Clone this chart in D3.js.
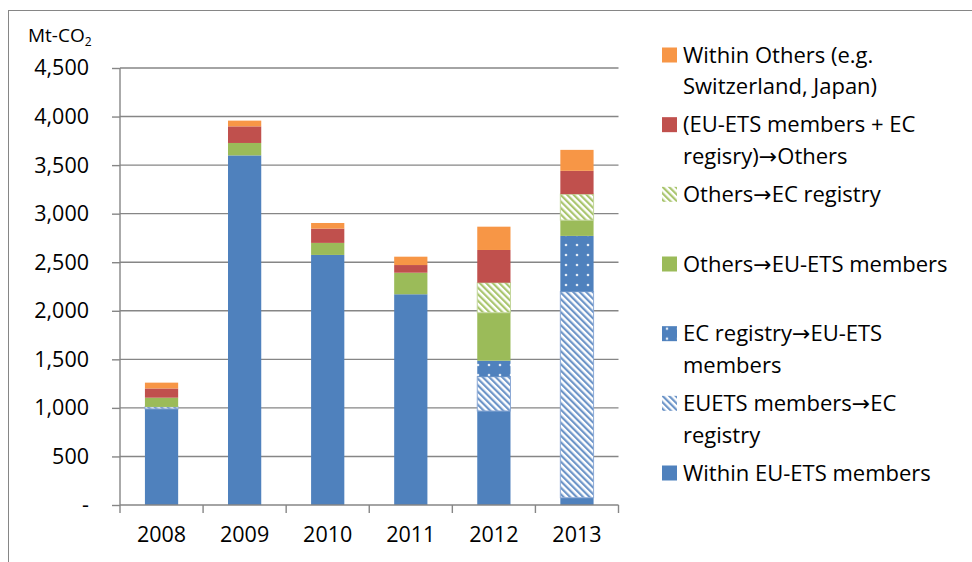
<!DOCTYPE html>
<html>
<head>
<meta charset="utf-8">
<script src="https://cdn.jsdelivr.net/npm/d3@7/dist/d3.min.js"></script>
<style>
    body { margin: 0; background: #fff; }
    text { font-family: "Open Sans", "Noto Sans", sans-serif; fill: #000; }
    .arrow { font-family: "DejaVu Sans", sans-serif; }
</style>
</head>
<body>
<div id="chart"></div>
<script>
// Data (Mt-CO2), series listed bottom to top of the stack
var years              =   [ '2008', '2009', '2010', '2011', '2012', '2013' ];
var within_eu          =   [ 990, 3600, 2575, 2170, 968, 75 ];
var euets_to_ec        =   [ 20, 0, 0, 0, 353, 2122 ];
var ec_to_eu           =   [ 0, 0, 0, 0, 165, 574 ];
var others_to_eu       =   [ 95, 128, 124, 222, 494, 162 ];
var others_to_ec       =   [ 0, 0, 0, 0, 309, 268 ];
var euec_to_others     =   [ 95, 171, 147, 79, 337, 240 ];
var within_others      =   [ 60, 59, 58, 86, 240, 216 ];
var y_ticks            =   [ 0, 500, 1000, 1500, 2000, 2500, 3000, 3500, 4000, 4500 ];

var series = [
    { key: 'within_eu',      values: within_eu,      fill: '#4F81BD',           label: [ 'Within EU-ETS members' ] },
    { key: 'euets_to_ec',    values: euets_to_ec,    fill: 'url(#hatch-blue)',  stroke: '#8DAAD6', label: [ 'EUETS members\u2192EC', 'registry' ] },
    { key: 'ec_to_eu',       values: ec_to_eu,       fill: 'url(#dots-blue)',   label: [ 'EC registry\u2192EU-ETS', 'members' ] },
    { key: 'others_to_eu',   values: others_to_eu,   fill: '#9BBB59',           label: [ 'Others\u2192EU-ETS members' ] },
    { key: 'others_to_ec',   values: others_to_ec,   fill: 'url(#hatch-green)', stroke: '#C3D69B', label: [ 'Others\u2192EC registry' ] },
    { key: 'euec_to_others', values: euec_to_others, fill: '#C0504D',           label: [ '(EU-ETS members + EC', 'regisry)\u2192Others' ] },
    { key: 'within_others',  values: within_others,  fill: '#F79646',           label: [ 'Within Others (e.g.', 'Switzerland, Japan)' ] }
];

var chart_width     =   972;
var chart_height    =   562;
var plot_left       =   120;
var plot_right      =   618.5;
var plot_top        =   68;
var plot_bottom     =   505;
var grid_color      =   '#868686';
var font_size       =   '21.5px';

var svg             =   d3.select( '#chart' )
    .append( 'svg' )
    .attr( 'width', chart_width )
    .attr( 'height', chart_height );

// Patterns
var defs = svg.append( 'defs' );

function hatch( id, color ) {
    var p = defs.append( 'pattern' )
        .attr( 'id', id )
        .attr( 'patternUnits', 'userSpaceOnUse' )
        .attr( 'width', 4.6 )
        .attr( 'height', 4.6 )
        .attr( 'patternTransform', 'rotate(-45)' );
    p.append( 'rect' ).attr( 'width', 4.6 ).attr( 'height', 4.6 ).attr( 'fill', '#fff' );
    p.append( 'rect' ).attr( 'width', 2.2 ).attr( 'height', 4.6 ).attr( 'fill', color );
}
hatch( 'hatch-blue', '#6D95C8' );
hatch( 'hatch-green', '#A9C56E' );

var dots = defs.append( 'pattern' )
    .attr( 'id', 'dots-blue' )
    .attr( 'patternUnits', 'userSpaceOnUse' )
    .attr( 'width', 11 )
    .attr( 'height', 10 );
dots.append( 'rect' ).attr( 'width', 11 ).attr( 'height', 10 ).attr( 'fill', '#4F81BD' );
dots.append( 'circle' ).attr( 'cx', 5 ).attr( 'cy', 5 ).attr( 'r', 1.3 ).attr( 'fill', '#E4ECF6' );

// Outer frame
svg.append( 'rect' )
    .attr( 'x', 8.5 )
    .attr( 'y', 10.5 )
    .attr( 'width', 1000 )
    .attr( 'height', 1000 )
    .attr( 'fill', 'none' )
    .attr( 'stroke', '#868686' )
    .attr( 'stroke-width', 1 );

// Scales
var x_scale         =   d3.scaleBand()
    .domain( years )
    .range([ plot_left, plot_right ])
    .paddingInner( 0.6 )
    .paddingOuter( 0.3 );

var y_scale         =   d3.scaleLinear()
    .domain([ 0, 4500 ])
    .range([ plot_bottom, plot_top ]);

// Gridlines
svg.append( 'g' )
    .selectAll( 'line' )
    .data( y_ticks.slice( 1 ) )
    .enter()
    .append( 'line' )
    .attr( 'x1', plot_left )
    .attr( 'x2', plot_right )
    .attr( 'y1', function(d){ return y_scale(d); } )
    .attr( 'y2', function(d){ return y_scale(d); } )
    .attr( 'stroke', grid_color )
    .attr( 'stroke-width', 1.4 );

// Stack
var table = years.map(function(yr, i){
    var row = { year: yr };
    series.forEach(function(s){ row[s.key] = s.values[i]; });
    return row;
});
var stacked = d3.stack().keys( series.map(function(s){ return s.key; }) )( table );

svg.append( 'g' )
    .selectAll( 'g' )
    .data( stacked )
    .enter()
    .append( 'g' )
    .each(function(layer, li){
        var s = series[li];
        d3.select( this ).selectAll( 'rect' )
            .data( layer.filter(function(d){ return d[1] - d[0] > 0; }) )
            .enter()
            .append( 'rect' )
            .attr( 'x', function(d){ return x_scale( d.data.year ); } )
            .attr( 'width', x_scale.bandwidth() )
            .attr( 'y', function(d){ return y_scale( d[1] ); } )
            .attr( 'height', function(d){ return y_scale( d[0] ) - y_scale( d[1] ); } )
            .attr( 'fill', s.fill )
            .attr( 'stroke', s.stroke || 'none' )
            .attr( 'stroke-width', 1 );
    });

// Y axis
var y_axis          =   d3.axisLeft( y_scale )
    .tickValues( y_ticks )
    .tickSize( 8 )
    .tickPadding( 23 )
    .tickFormat(function(d){ return d === 0 ? '-' : d3.format( ',' )( d ); });

var gy = svg.append( 'g' )
    .attr( 'class', 'y-axis' )
    .attr( 'transform', 'translate(' + plot_left + ',0)' )
    .call( y_axis );
gy.select( '.domain' ).remove();
gy.selectAll( 'line' ).attr( 'stroke', grid_color ).attr( 'stroke-width', 1.4 );
gy.selectAll( 'text' ).style( 'font-size', font_size ).attr( 'fill', '#000' );
gy.append( 'line' )
    .attr( 'y1', plot_top )
    .attr( 'y2', plot_bottom )
    .attr( 'stroke', grid_color )
    .attr( 'stroke-width', 1.4 );

// X axis
var x_axis          =   d3.axisBottom( x_scale )
    .tickSize( 0 )
    .tickPadding( 22 );

var gx = svg.append( 'g' )
    .attr( 'class', 'x-axis' )
    .attr( 'transform', 'translate(0,' + plot_bottom + ')' )
    .call( x_axis );
gx.select( '.domain' ).remove();
gx.selectAll( 'text' ).style( 'font-size', font_size ).attr( 'fill', '#000' );
gx.append( 'line' )
    .attr( 'x1', plot_left )
    .attr( 'x2', plot_right )
    .attr( 'stroke', grid_color )
    .attr( 'stroke-width', 1.4 );
gx.selectAll( '.bound' )
    .data( d3.range( years.length + 1 ) )
    .enter()
    .append( 'line' )
    .attr( 'x1', function(i){ return plot_left + i * x_scale.step(); } )
    .attr( 'x2', function(i){ return plot_left + i * x_scale.step(); } )
    .attr( 'y1', 0 )
    .attr( 'y2', 8 )
    .attr( 'stroke', grid_color )
    .attr( 'stroke-width', 1.4 );

// Unit label
var unit = svg.append( 'text' )
    .attr( 'x', 28 )
    .attr( 'y', 42 )
    .style( 'font-size', '19px' );
unit.append( 'tspan' ).text( 'Mt-CO' );
unit.append( 'tspan' ).attr( 'dy', 4 ).style( 'font-size', '12px' ).text( '2' );

// Legend (top entry = top of stack)
var legend_y        =   d3.scaleLinear().domain([ 0, 6 ]).range([ 55, 473 ]);
var legend = svg.append( 'g' )
    .selectAll( 'g' )
    .data( series.slice().reverse() )
    .enter()
    .append( 'g' )
    .attr( 'transform', function(d, i){ return 'translate(662,' + legend_y( i ) + ')'; } );

legend.append( 'rect' )
    .attr( 'x', 0 )
    .attr( 'y', -7.5 )
    .attr( 'width', 15 )
    .attr( 'height', 15 )
    .attr( 'fill', function(d){ return d.fill; } );

legend.each(function(d){
    var t = d3.select( this ).append( 'text' )
        .style( 'font-size', '22px' );
    d.label.forEach(function(line, k){
        var row = t.append( 'tspan' )
            .attr( 'x', 21 )
            .attr( 'y', k * 31.5 )
            .attr( 'dy', '0.35em' );
        line.split( '\u2192' ).forEach(function(part, j){
            if ( j > 0 ) row.append( 'tspan' ).attr( 'class', 'arrow' ).text( '\u2192' );
            row.append( 'tspan' ).text( part );
        });
    });
});
</script>
</body>
</html>
